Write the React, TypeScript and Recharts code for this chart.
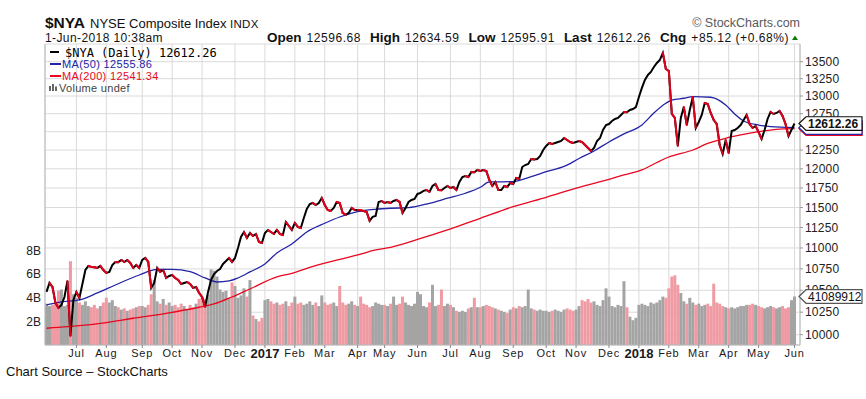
import React from "react";
import { ComposedChart, Line, Bar, Cell, XAxis, YAxis, CartesianGrid, ReferenceDot } from "recharts";

// ---- categories: one point per ~2 trading days, grouped by month ----
const monthLabels = ["Jun", "Jul", "Aug", "Sep", "Oct", "Nov", "Dec", "2017", "Feb", "Mar", "Apr", "May", "Jun", "Jul", "Aug", "Sep", "Oct", "Nov", "Dec", "2018", "Feb", "Mar", "Apr", "May", "Jun"];
const monthCounts = [10, 10, 12, 10, 10, 11, 10, 10, 10, 11, 9, 11, 11, 10, 11, 11, 10, 11, 10, 10, 10, 10, 10, 12, 1];

// ---- $NYA closes ----
const closes2016 = [
  10481, 10585, 10538, 10355, 10298, 10332, 10423, 10608, 9986, 10389,
  10481, 10412, 10573, 10737, 10785, 10773, 10770, 10761, 10785, 10737,
  10702, 10714, 10796, 10832, 10830, 10856, 10832, 10856, 10820, 10761, 10796, 10761,
  10856, 10880, 10832, 10527, 10585, 10761, 10714, 10737, 10643, 10667,
  10678, 10643, 10620, 10573, 10585, 10596, 10573, 10527, 10538, 10469,
  10423, 10309, 10481, 10620, 10690, 10725, 10749, 10808, 10844, 10880, 10832,
  10880, 11000, 11134, 11195, 11122, 11183, 11146, 11171, 11073, 11061,
];
const closes2017 = [
  11183, 11220, 11195, 11171, 11220, 11171, 11158, 11319, 11269, 11220,
  11307, 11257, 11245, 11369, 11482, 11545, 11558, 11532, 11558, 11622,
  11532, 11469, 11457, 11495, 11571, 11558, 11432, 11407, 11432, 11495, 11469,
  11469, 11465, 11457, 11444, 11332, 11382, 11394, 11571, 11583,
  11558, 11571, 11558, 11583, 11596, 11571, 11432, 11495, 11571, 11596, 11609,
  11673, 11686, 11712, 11724, 11699, 11776, 11802, 11724, 11720, 11750, 11776,
  11750, 11763, 11724, 11828, 11893, 11906, 11893, 11959, 11955, 11985,
  11972, 11985, 11972, 11854, 11776, 11828, 11724, 11724, 11776, 11763, 11815,
  11802, 11880, 11867, 12024, 12050, 12064, 12130, 12125, 12130, 12170, 12251,
  12305, 12345, 12332, 12345, 12359, 12373, 12413, 12386, 12359, 12345,
  12359, 12373, 12359, 12318, 12278, 12237, 12278, 12373, 12413, 12523, 12592,
  12606, 12648, 12676, 12690, 12732, 12774, 12770, 12802, 12816, 12844,
];
const closes2018 = [
  12986, 13116, 13231, 13304, 13348, 13422, 13481, 13526, 13630, 13392,
  13363, 12746, 12690, 12305, 12690, 12844, 12592, 12802, 12986, 12551,
  12634, 12732, 12901, 12887, 12760, 12662, 12606, 12318, 12197, 12386,
  12210, 12509, 12523, 12551, 12592, 12662, 12732, 12606, 12551, 12578,
  12495, 12400, 12523, 12676, 12774, 12746, 12760, 12788, 12718, 12606, 12441, 12527,
  12612.26,
];

// ---- volume, billions ----
const volumes2016 = [
  3.5, 3.3, 3.4, 3.6, 4.6, 4.7, 3.3, 3.4, 7.1, 4.3,
  4.0, 3.6, 3.4, 3.7, 3.3, 3.2, 3.4, 3.1, 3.3, 3.6,
  4.0, 3.6, 3.8, 3.3, 3.2, 3.0, 3.1, 2.9, 3.0, 3.1, 3.2, 3.3,
  3.3, 3.2, 3.4, 4.3, 5.5, 3.7, 3.5, 3.9, 3.4, 3.6,
  3.3, 3.4, 3.2, 3.5, 3.3, 3.0, 3.4, 3.2, 3.5, 3.9,
  4.1, 3.9, 4.3, 6.4, 6.3, 5.8, 4.7, 4.5, 4.6, 4.0, 5.3,
  5.0, 4.0, 4.2, 4.8, 4.1, 5.5, 2.5, 2.2, 2.0, 2.3,
];
const volumes2017 = [
  3.8, 3.9, 3.7, 3.5, 3.6, 3.4, 3.5, 3.7, 3.3, 3.6,
  4.1, 3.5, 3.6, 3.4, 3.5, 3.7, 3.4, 3.6, 3.3, 4.2,
  3.6, 3.4, 3.5, 3.6, 3.3, 5.0, 3.6, 3.4, 3.5, 3.7, 3.4,
  3.3, 4.1, 3.5, 3.4, 3.2, 3.3, 3.6, 3.5, 3.4,
  3.4, 3.3, 3.5, 4.1, 3.4, 3.5, 4.1, 3.6, 3.4, 3.3, 3.5,
  4.5, 4.3, 3.3, 3.2, 3.6, 5.1, 3.3, 3.4, 4.7, 3.3, 3.5,
  3.4, 3.2, 2.9, 2.8, 2.9, 2.8, 3.1, 3.2, 4.0, 3.2,
  3.2, 3.3, 3.4, 3.3, 3.2, 3.1, 3.0, 2.9, 2.8, 2.7, 3.0,
  3.2, 3.1, 3.3, 3.2, 3.3, 4.7, 3.1, 3.0, 2.9, 3.0, 2.9,
  2.9, 2.8, 2.9, 3.0, 2.9, 2.8, 3.0, 3.1, 3.0, 2.9,
  3.0, 3.3, 3.8, 3.7, 3.9, 3.6, 3.7, 3.4, 3.3, 3.8, 4.8,
  4.1, 3.3, 3.2, 3.4, 3.3, 5.4, 3.2, 2.4, 2.1, 2.3,
];
const volumes2018 = [
  3.4, 3.5, 3.4, 3.3, 3.6, 3.5, 3.6, 3.8, 4.1, 4.0,
  4.8, 5.8, 5.9, 5.1, 4.4, 3.7, 3.5, 4.0, 3.6, 3.4,
  3.5, 3.3, 3.4, 3.5, 3.3, 5.2, 3.6, 3.5, 3.3, 3.2,
  3.1, 3.2, 3.1, 3.2, 3.3, 3.3, 3.4, 3.4, 3.5, 3.4,
  3.3, 3.2, 3.1, 3.2, 3.3, 3.2, 3.1, 3.2, 3.3, 3.1, 3.2, 3.8,
  4.1089912,
];

// ---- moving averages (read at selected points) ----
const ma50Idx = [0, 5, 11, 17, 23, 31, 37, 42, 48, 53, 57, 61, 64, 68, 73, 77, 82, 87, 93, 98, 104, 110, 115, 121, 128, 134, 140, 145, 148, 156, 162, 167, 173, 178, 183, 188, 193, 199, 203, 207, 209, 213, 216, 222, 227, 230, 233, 238, 242, 250];
const ma50Vals = [10332, 10366, 10389, 10469, 10561, 10678, 10743, 10745, 10717, 10643, 10596, 10608, 10643, 10714, 10808, 10940, 11048, 11195, 11303, 11381, 11448, 11478, 11491, 11498, 11554, 11618, 11682, 11759, 11828, 11832, 11897, 11962, 12031, 12137, 12238, 12359, 12469, 12592, 12760, 12897, 12942, 12968, 12990, 12982, 12872, 12746, 12648, 12592, 12569, 12555.86];
const ma200Idx = [0, 7, 18, 29, 40, 51, 56, 62, 68, 77, 82, 87, 93, 98, 104, 110, 115, 124, 134, 145, 156, 167, 178, 183, 188, 193, 199, 204, 208, 216, 221, 227, 232, 238, 244, 250];
const ma200Vals = [10071, 10088, 10126, 10182, 10238, 10306, 10343, 10423, 10515, 10655, 10698, 10757, 10817, 10864, 10916, 10976, 11008, 11103, 11220, 11365, 11511, 11630, 11759, 11811, 11863, 11919, 11985, 12084, 12157, 12251, 12339, 12410, 12455, 12500, 12533, 12541.34];

// ---- axes / labels ----
const priceTicks = [10000, 10250, 10500, 10750, 11000, 11250, 11500, 11750, 12000, 12250, 12500, 12750, 13000, 13250, 13500];
const hiddenPriceLabels = [12500];
const volumeTicks = [2, 4, 6, 8];
const priceDomain = [9887, 13765];
const volumeDomain = [0, 25.5];
const quoteLabels = ["Open", "High", "Low", "Last", "Chg"];
const quoteValues = ["12596.68", "12634.59", "12595.91", "12612.26", "+85.12 (+0.68%)"];
const lastClose = 12612.26;
const lastMa50 = 12555.86;
const lastMa200 = 12541.34;
const lastVolume = 4.1089912;
const lastVolumeText = "41089912";

// ---- build table ----
const closes = [...closes2016, ...closes2017, ...closes2018];
const volumes = [...volumes2016, ...volumes2017, ...volumes2018];
const monthStarts: number[] = [];
{
  let acc = 0;
  monthCounts.forEach((c) => {
    monthStarts.push(acc);
    acc += c;
  });
}
const tickIdx = monthStarts.slice(1);
const tickLabel = new Map<number, string>(tickIdx.map((i, k) => [i, monthLabels[k + 1]]));

const data: any[] = closes.map((c, i) => ({
  i,
  close: c,
  vol: volumes[i],
  down: i > 0 && c < closes[i - 1],
  ma50: null,
  ma200: null,
  r0: null,
  r1: null,
  r2: null,
}));
for (let k = 1; k < closes.length; k++) {
  if (closes[k] < closes[k - 1]) {
    const key = "r" + (k % 3);
    data[k - 1][key] = closes[k - 1];
    data[k][key] = closes[k];
  }
}
ma50Idx.forEach((idx, j) => (data[idx].ma50 = ma50Vals[j]));
ma200Idx.forEach((idx, j) => (data[idx].ma200 = ma200Vals[j]));
const lastIdx = closes.length - 1;

const FONT = "'Liberation Sans', Arial, Helvetica, sans-serif";
const BLUE = "#2323a6";
const RED = "#e8081f";
const PRICE_RED = "#e3001b";
const GRID = "#dadada";
const FRAME = "#b8b8b8";

const MonthTick = (props: any) => {
  const { x, y, payload } = props;
  const label = tickLabel.get(payload.value) ?? "";
  const isYear = /^\d{4}$/.test(label);
  return (
    <text
      x={x}
      y={y + (isYear ? 8 : 6.5)}
      textAnchor="middle"
      fontFamily={FONT}
      fontSize={isYear ? 13 : 11}
      fontWeight={isYear ? "bold" : "normal"}
      letterSpacing={isYear ? 0 : 0.8}
      fill="#1a1a1a"
    >
      {label}
    </text>
  );
};

const PriceTick = (props: any) => {
  const { x, y, payload } = props;
  if (hiddenPriceLabels.includes(payload.value)) return <g />;
  return (
    <text x={x} y={y + 4.2} textAnchor="start" fontFamily={FONT} fontSize={12} letterSpacing={0.2} fill="#222">
      {payload.value}
    </text>
  );
};

const VolumeTick = (props: any) => {
  const { x, y, payload } = props;
  return (
    <text x={x} y={y + 4.2} textAnchor="end" fontFamily={FONT} fontSize={12} fill="#222">
      {payload.value + "B"}
    </text>
  );
};

function makeTag(text: string, stroke: string, bold: boolean, showText: boolean) {
  return (props: any) => {
    const { cx, cy } = props;
    if (cx == null || cy == null) return <g />;
    const x0 = cx + 4.5;
    const h = 6.8;
    return (
      <g>
        <path
          d={`M${x0},${cy} L${x0 + 7},${cy - h} L${x0 + 63},${cy - h} L${x0 + 63},${cy + h} L${x0 + 7},${cy + h} Z`}
          fill="#fff"
          stroke={stroke}
          strokeWidth={1.2}
        />
        {showText && (
          <text x={x0 + 9} y={cy + 4.3} fontFamily={FONT} fontSize={12} fontWeight={bold ? "bold" : "normal"} fill="#111">
            {text}
          </text>
        )}
      </g>
    );
  };
}

export default function App() {
  const tagProps: any = { r: 0, ifOverflow: "visible", zIndex: 2000 };
  return (
    <div style={{ position: "absolute", left: 0, top: 0, width: 866, height: 399, background: "#fff", overflow: "hidden" }}>
      <div style={{ position: "absolute", left: 0, top: 0 }}>
        <ComposedChart
          width={866}
          height={370}
          data={data}
          margin={{ top: 44, right: 0, bottom: 0, left: 0 }}
          barCategoryGap={0}
          barGap={0}
        >
          <CartesianGrid xAxisId="main" yAxisId="price" stroke={GRID} strokeWidth={1} />
          <XAxis
            xAxisId="main"
            dataKey="i"
            type="category"
            ticks={tickIdx}
            interval={0}
            tick={<MonthTick />}
            tickSize={3}
            height={25}
            padding={{ left: 0, right: 4 }}
            axisLine={{ stroke: FRAME }}
            tickLine={{ stroke: "#888" }}
          />
          <XAxis xAxisId="top" dataKey="i" orientation="top" height={0} tick={false} tickLine={false} axisLine={{ stroke: FRAME }} />
          <YAxis
            yAxisId="vol"
            orientation="left"
            width={45}
            domain={volumeDomain}
            ticks={volumeTicks}
            type="number"
            allowDataOverflow
            tick={<VolumeTick />}
            tickSize={0}
            tickMargin={4}
            tickLine={false}
            axisLine={{ stroke: FRAME }}
          />
          <YAxis
            yAxisId="price"
            orientation="right"
            width={66}
            scale="log"
            domain={priceDomain}
            ticks={priceTicks}
            type="number"
            allowDataOverflow
            interval={0}
            tick={<PriceTick />}
            tickSize={3}
            tickMargin={2}
            tickLine={{ stroke: "#999" }}
            axisLine={{ stroke: FRAME }}
          />
          <Bar xAxisId="main" yAxisId="vol" dataKey="vol" isAnimationActive={false}>
            {data.map((d, i) => (
              <Cell key={i} fill={d.down ? "#f09aa3" : "#a4a4a4"} />
            ))}
          </Bar>
          <Line xAxisId="main" yAxisId="price" dataKey="ma200" type="monotone" connectNulls stroke={RED} strokeWidth={1.3} dot={false} activeDot={false} isAnimationActive={false} />
          <Line xAxisId="main" yAxisId="price" dataKey="ma50" type="monotone" connectNulls stroke={BLUE} strokeWidth={1.3} dot={false} activeDot={false} isAnimationActive={false} />
          <Line xAxisId="main" yAxisId="price" dataKey="close" type="linear" stroke="#000" strokeWidth={2} dot={false} activeDot={false} isAnimationActive={false} />
          {["r0", "r1", "r2"].map((k) => (
            <Line
              key={k}
              xAxisId="main"
              yAxisId="price"
              dataKey={k}
              type="linear"
              stroke={PRICE_RED}
              strokeWidth={2}
              strokeLinecap="round"
              dot={false}
              activeDot={false}
              isAnimationActive={false}
            />
          ))}
          <ReferenceDot {...tagProps} xAxisId="main" yAxisId="price" x={lastIdx} y={lastMa200} shape={makeTag("", RED, false, false)} />
          <ReferenceDot {...tagProps} xAxisId="main" yAxisId="price" x={lastIdx} y={lastMa50} shape={makeTag("", BLUE, false, false)} />
          <ReferenceDot {...tagProps} xAxisId="main" yAxisId="price" x={lastIdx} y={lastClose} shape={makeTag(String(lastClose), "#111", true, true)} />
          <ReferenceDot {...tagProps} xAxisId="main" yAxisId="vol" x={lastIdx} y={lastVolume} shape={makeTag(lastVolumeText, "#555", false, true)} />
        </ComposedChart>
      </div>
      <svg width={866} height={399} style={{ position: "absolute", left: 0, top: 0, pointerEvents: "none" }} fontFamily={FONT}>
        <text x={45} y={28} fontSize={15.5} fontWeight="bold" fill="#111">$NYA</text>
        <text x={90} y={27.8} fontSize={13} fill="#111">NYSE Composite Index</text>
        <text x={230} y={27.5} fontSize={11.5} fill="#111" letterSpacing={0.3}>INDX</text>
        <text x={800} y={27} textAnchor="end" fontSize={12.5} fill="#5a5a5a">© StockCharts.com</text>
        <text x={45} y={41.5} fontSize={12} letterSpacing={0.4} fill="#111">1-Jun-2018 10:38am</text>
        <text x={789} y={41.5} textAnchor="end" fill="#111">
          {quoteLabels.map((l, k) => (
            <React.Fragment key={l}>
              <tspan fontWeight="bold" fontSize={13.5} dx={k > 0 ? 9 : 0}>{l}</tspan>
              <tspan fontSize={12} letterSpacing={0.55} dx={5}>{quoteValues[k]}</tspan>
            </React.Fragment>
          ))}
        </text>
        <polygon points="792,40 798,40 795,35.5" fill="#0a7a0a" />

        <line x1={50} x2={59} y1={52} y2={52} stroke="#000" strokeWidth={2} />
        <text x={65} y={56.5} fontFamily="'DejaVu Sans Mono', monospace" fontSize={12} fill="#000">$NYA (Daily) 12612.26</text>
        <line x1={50} x2={61} y1={64} y2={64} stroke={BLUE} strokeWidth={2} />
        <text x={62} y={68} fontSize={11} letterSpacing={0.35} fill={BLUE}>MA(50) 12555.86</text>
        <line x1={50} x2={61} y1={76} y2={76} stroke={RED} strokeWidth={2} />
        <text x={62} y={80} fontSize={11} letterSpacing={0.35} fill={RED}>MA(200) 12541.34</text>
        <rect x={49} y={86} width={2} height={5} fill="#666" />
        <rect x={52} y={84} width={2} height={7} fill="#666" />
        <rect x={55} y={86.5} width={2} height={4.5} fill="#666" />
        <text x={59} y={91.5} fontSize={11} letterSpacing={0.3} fill="#444">Volume undef</text>

        <text x={6} y={376} fontSize={13} fill="#111">Chart Source – StockCharts</text>
      </svg>
    </div>
  );
}
